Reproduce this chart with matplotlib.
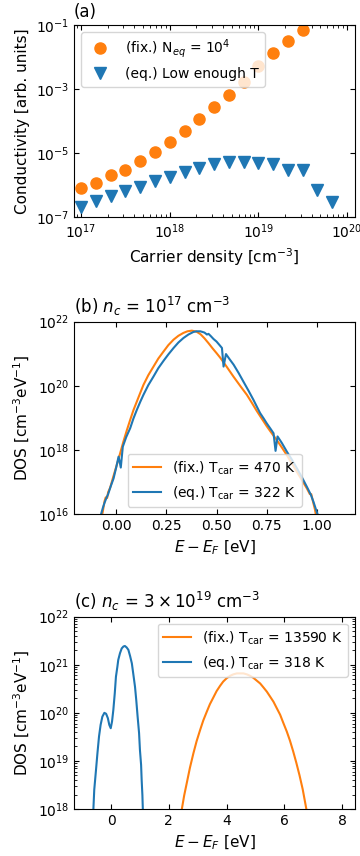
import numpy as np
import matplotlib
matplotlib.use("Agg")
import matplotlib.pyplot as plt
from matplotlib.ticker import NullLocator

# ---------------- data ----------------
# (a) conductivity vs carrier density
density_fix = [1.0e17, 1.47e17, 2.15e17, 3.16e17, 4.64e17, 6.81e17, 1.0e18, 1.47e18,
               2.15e18, 3.16e18, 4.64e18, 6.81e18, 1.0e19, 1.47e19, 2.15e19, 3.16e19]
cond_fix = [8.1e-7, 1.15e-6, 2.1e-6, 3.0e-6, 5.6e-6, 1.1e-5, 2.2e-5, 5.0e-5,
            1.2e-4, 2.8e-4, 6.5e-4, 1.7e-3, 5.1e-3, 1.33e-2, 3.2e-2, 7.1e-2]
density_eq = [1.0e17, 1.47e17, 2.15e17, 3.16e17, 4.64e17, 6.81e17, 1.0e18, 1.47e18,
              2.15e18, 3.16e18, 4.64e18, 6.81e18, 1.0e19, 1.47e19, 2.15e19, 3.16e19,
              4.64e19, 6.81e19]
cond_eq = [2.1e-7, 3.2e-7, 4.7e-7, 6.6e-7, 9.1e-7, 1.37e-6, 1.8e-6, 2.6e-6,
           3.4e-6, 4.7e-6, 5.2e-6, 5.2e-6, 5.0e-6, 4.5e-6, 3.0e-6, 2.9e-6,
           6.9e-7, 3.1e-7]

# (b) DOS at n_c = 1e17 (log10 of DOS)
b_fix_E = [-0.075, -0.066, -0.058, -0.052, -0.045, -0.040, -0.030, -0.015, 0.003, 0.020,
           0.036, 0.053, 0.07, 0.086, 0.103, 0.12, 0.136, 0.16, 0.186, 0.21,
           0.236, 0.26, 0.286, 0.31, 0.335, 0.355, 0.377, 0.40, 0.42, 0.44,
           0.46, 0.48, 0.50, 0.518, 0.55, 0.584, 0.62, 0.651, 0.675, 0.70,
           0.725, 0.75, 0.775, 0.80, 0.825, 0.85, 0.875, 0.90, 0.925, 0.95,
           0.965, 0.972, 0.982, 0.99, 1.0]
b_fix_logdos = [15.8, 16.10, 16.40, 16.52, 16.50, 16.68, 16.82, 17.15, 17.53, 17.90,
                18.26, 18.61, 18.94, 19.24, 19.51, 19.78, 20.03, 20.33, 20.60, 20.85,
                21.07, 21.27, 21.44, 21.56, 21.65, 21.70, 21.72, 21.69, 21.61, 21.48,
                21.33, 21.17, 21.02, 20.88, 20.60, 20.29, 19.98, 19.72, 19.48, 19.22,
                18.98, 18.74, 18.52, 18.31, 18.08, 17.84, 17.58, 17.32, 17.06, 16.80,
                16.62, 16.62, 16.35, 16.15, 15.8]
b_eq_E = [-0.085, -0.075, -0.066, -0.058, -0.050, -0.040, -0.028, -0.013, 0.000, 0.012,
          0.023, 0.033, 0.05, 0.07, 0.086, 0.103, 0.12, 0.136, 0.16, 0.186,
          0.21, 0.236, 0.26, 0.286, 0.31, 0.335, 0.36, 0.385, 0.40, 0.419,
          0.43, 0.44, 0.452, 0.46, 0.47, 0.485, 0.50, 0.515, 0.527, 0.535,
          0.547, 0.565, 0.585, 0.61, 0.634, 0.66, 0.684, 0.70, 0.717, 0.735,
          0.75, 0.77, 0.784, 0.794, 0.804, 0.825, 0.85, 0.875, 0.90, 0.925,
          0.95, 0.97, 0.983, 0.995, 1.003, 1.012]
b_eq_logdos = [15.8, 16.00, 16.20, 16.35, 16.48, 16.62, 16.85, 17.11, 17.45, 17.79,
               17.45, 18.10, 18.40, 18.68, 18.98, 19.25, 19.50, 19.72, 20.02, 20.29,
               20.55, 20.78, 20.98, 21.18, 21.35, 21.49, 21.60, 21.68, 21.70, 21.70,
               21.68, 21.66, 21.60, 21.62, 21.56, 21.46, 21.38, 21.27, 21.18, 20.60,
               20.99, 20.83, 20.66, 20.40, 20.13, 19.84, 19.56, 19.36, 19.15, 18.98,
               18.83, 18.65, 18.52, 17.97, 18.42, 18.22, 17.95, 17.70, 17.43, 17.15,
               16.85, 16.60, 16.38, 16.15, 16.0, 15.8]

# (c) DOS at n_c = 3e19 (log10 of DOS)
c_fix_E = [2.40, 2.45, 2.53, 2.62, 2.73, 2.85, 2.96, 3.08, 3.19, 3.31, 3.42, 3.54,
           3.65, 3.77, 3.88, 4.00, 4.12, 4.23, 4.35, 4.46, 4.58, 4.70, 4.81, 4.92,
           5.04, 5.16, 5.27, 5.39, 5.50, 5.62, 5.73, 5.85, 5.96, 6.08, 6.19, 6.30,
           6.41, 6.52, 6.63, 6.75, 6.80]
c_fix_logdos = [17.75, 18.00, 18.28, 18.54, 18.86, 19.16, 19.41, 19.64, 19.84, 20.02,
                20.18, 20.32, 20.45, 20.56, 20.65, 20.72, 20.77, 20.80, 20.82, 20.82,
                20.82, 20.80, 20.77, 20.73, 20.67, 20.61, 20.53, 20.44, 20.34, 20.23,
                20.10, 19.96, 19.79, 19.61, 19.42, 19.20, 18.96, 18.70, 18.41, 18.02,
                17.85]
c_eq_E = [-0.64, -0.61, -0.58, -0.52, -0.47, -0.415, -0.36, -0.30, -0.23, -0.17, -0.11,
          -0.06, -0.01, 0.035, 0.08, 0.13, 0.17, 0.22, 0.25, 0.31, 0.37, 0.43, 0.48,
          0.54, 0.60, 0.66, 0.72, 0.77, 0.83, 0.875, 0.92, 0.97, 1.00, 1.04, 1.06,
          1.085, 1.10, 1.12]
c_eq_logdos = [17.6, 18.0, 18.40, 18.81, 19.16, 19.51, 19.75, 19.92, 20.00, 19.98, 19.89,
               19.75, 19.68, 19.82, 20.06, 20.41, 20.75, 20.96, 21.10, 21.24, 21.34, 21.38,
               21.39, 21.36, 21.31, 21.18, 21.03, 20.81, 20.54, 20.25, 19.92, 19.58, 19.23,
               18.92, 18.60, 18.29, 18.0, 17.6]

ORANGE = "#ff7f0e"
BLUE = "#1f77b4"

fig = plt.figure(figsize=(3.6, 8.56), dpi=100)
W = 0.7806
L = 0.2056
H = 0.2247


def style(ax):
    ax.tick_params(which="both", direction="in", top=True, right=True, labelsize=10)


# ---------------- (a) ----------------
ax = fig.add_axes([L, 0.7461, W, H])
ax.plot(density_fix, cond_fix, "o", color=ORANGE, ms=8, label=r"(fix.) N$_{eq}$ = 10$^4$")
ax.plot(density_eq, cond_eq, "v", color=BLUE, ms=8, label="(eq.) Low enough T")
ax.set_xscale("log")
ax.set_yscale("log")
ax.set_xlim(10**16.92, 10**20.09)
ax.set_ylim(1e-7, 1e-1)
ax.set_yticks([1e-7, 1e-5, 1e-3, 1e-1])
ax.yaxis.set_minor_locator(NullLocator())
ax.set_xlabel(r"Carrier density [cm$^{-3}$]", fontsize=11)
ax.set_ylabel("Conductivity [arb. units]", fontsize=11)
ax.set_title("(a)", loc="left", fontsize=12)
ax.legend(loc="upper left", fontsize=10, numpoints=1)
style(ax)

# ---------------- (b) ----------------
ax = fig.add_axes([L, 0.3995, W, H])
ax.plot(b_fix_E, 10 ** np.array(b_fix_logdos), color=ORANGE, lw=1.5, label=r"(fix.) T$_{\rm car}$ = 470 K")
ax.plot(b_eq_E, 10 ** np.array(b_eq_logdos), color=BLUE, lw=1.5, label=r"(eq.) T$_{\rm car}$ = 322 K")
ax.set_yscale("log")
ax.set_xlim(-0.21, 1.19)
ax.set_ylim(1e16, 1e22)
ax.set_yticks([1e16, 1e18, 1e20, 1e22])
ax.yaxis.set_minor_locator(NullLocator())
ax.set_xticks([0.0, 0.25, 0.5, 0.75, 1.0])
ax.set_xlabel(r"$E - E_F$ [eV]", fontsize=11)
ax.set_ylabel(r"DOS [cm$^{-3}$eV$^{-1}$]", fontsize=11)
ax.set_title(r"(b) $n_c$ = $10^{17}$ cm$^{-3}$", loc="left", fontsize=12)
ax.legend(loc="lower center", fontsize=10)
style(ax)

# ---------------- (c) ----------------
ax = fig.add_axes([L, 0.0549, W, H])
ax.plot(c_fix_E, 10 ** np.array(c_fix_logdos), color=ORANGE, lw=1.5, label=r"(fix.) T$_{\rm car}$ = 13590 K")
ax.plot(c_eq_E, 10 ** np.array(c_eq_logdos), color=BLUE, lw=1.5, label=r"(eq.) T$_{\rm car}$ = 318 K")
ax.set_yscale("log")
ax.set_xlim(-1.28, 8.44)
ax.set_ylim(1e18, 1e22)
ax.set_xticks([0, 2, 4, 6, 8])
ax.set_xlabel(r"$E - E_F$ [eV]", fontsize=11)
ax.set_ylabel(r"DOS [cm$^{-3}$eV$^{-1}$]", fontsize=11)
ax.set_title(r"(c) $n_c$ = $3\times10^{19}$ cm$^{-3}$", loc="left", fontsize=12)
ax.legend(loc="upper right", fontsize=10)
style(ax)

fig.savefig("out.png", dpi=100)
